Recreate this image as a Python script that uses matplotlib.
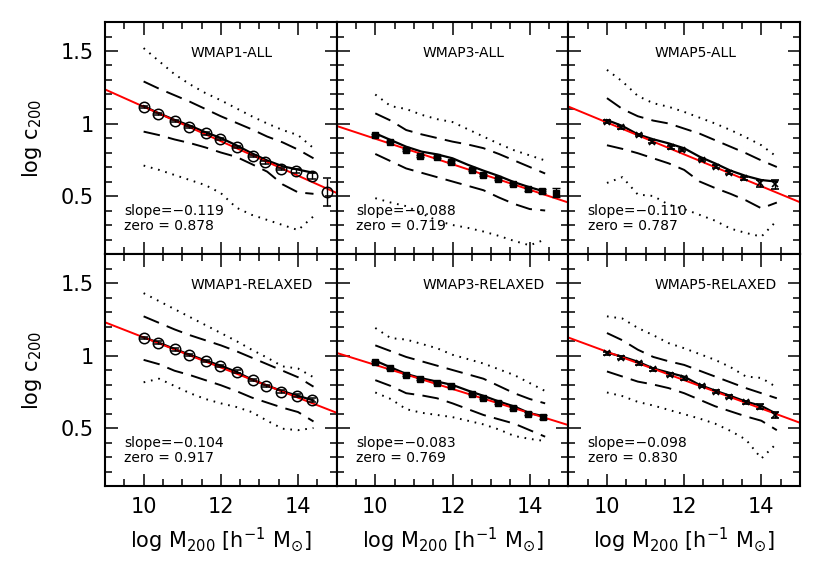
import matplotlib
matplotlib.use('Agg')
import matplotlib.pyplot as plt
from matplotlib.ticker import MultipleLocator, FuncFormatter
import numpy as np

# ---------------- data ----------------
mass_grid = [10.0, 10.4, 10.8, 11.2, 11.6, 12.0, 12.4, 12.8, 13.2, 13.6, 14.0, 14.4]

titles = ["WMAP1-ALL", "WMAP3-ALL", "WMAP5-ALL",
          "WMAP1-RELAXED", "WMAP3-RELAXED", "WMAP5-RELAXED"]
slopes = [-0.119, -0.088, -0.110, -0.104, -0.083, -0.098]
zeros = [0.878, 0.719, 0.787, 0.917, 0.769, 0.830]

# WMAP1-ALL
w1a_x = [10.0, 10.38, 10.81, 11.17, 11.61, 11.97, 12.43, 12.83, 13.15, 13.56, 13.95, 14.36, 14.74]
w1a_y = [1.116, 1.066, 1.019, 0.978, 0.932, 0.893, 0.840, 0.778, 0.732, 0.686, 0.672, 0.640, 0.528]
w1a_err = [0.008, 0.008, 0.008, 0.008, 0.008, 0.008, 0.008, 0.008, 0.01, 0.01, 0.012, 0.02, 0.095]
w1a_med = [1.12, 1.07, 1.025, 0.985, 0.94, 0.90, 0.85, 0.795, 0.745, 0.705, 0.682, 0.66]
w1a_up1 = [1.29, 1.24, 1.195, 1.15, 1.10, 1.05, 1.005, 0.96, 0.91, 0.87, 0.82, 0.76]
w1a_lo1 = [0.944, 0.92, 0.89, 0.865, 0.835, 0.80, 0.77, 0.72, 0.668, 0.58, 0.525, 0.515]
w1a_up2 = [1.52, 1.43, 1.34, 1.27, 1.21, 1.16, 1.105, 1.05, 1.0, 0.955, 0.92, 0.83]
w1a_lo2 = [0.71, 0.68, 0.645, 0.61, 0.575, 0.52, 0.42, 0.37, 0.335, 0.30, 0.265, 0.36]

# WMAP3-ALL
w3a_x = [10.0, 10.38, 10.8, 11.17, 11.6, 11.97, 12.5, 12.78, 13.17, 13.56, 13.95, 14.33, 14.68]
w3a_y = [0.921, 0.875, 0.817, 0.776, 0.767, 0.737, 0.679, 0.645, 0.617, 0.583, 0.546, 0.534, 0.523]
w3a_err = [0.006, 0.006, 0.006, 0.006, 0.006, 0.006, 0.006, 0.006, 0.008, 0.008, 0.01, 0.015, 0.03]
w3a_med = [0.932, 0.886, 0.84, 0.806, 0.787, 0.76, 0.715, 0.675, 0.638, 0.595, 0.56, 0.53]
w3a_up1 = [1.07, 1.02, 0.955, 0.925, 0.90, 0.875, 0.855, 0.83, 0.79, 0.745, 0.70, 0.655]
w3a_lo1 = [0.79, 0.74, 0.69, 0.66, 0.63, 0.60, 0.57, 0.54, 0.49, 0.445, 0.41, 0.40]
w3a_up2 = [1.20, 1.12, 1.10, 1.06, 1.03, 1.01, 0.96, 0.91, 0.86, 0.815, 0.78, 0.745]
w3a_lo2 = [0.485, 0.455, 0.43, 0.38, 0.33, 0.30, 0.28, 0.255, 0.225, 0.19, 0.16, 0.20]

# WMAP5-ALL
w5a_x = [10.0, 10.36, 10.83, 11.17, 11.65, 11.95, 12.47, 12.82, 13.16, 13.55, 13.96, 14.34]
w5a_y = [1.013, 0.974, 0.921, 0.875, 0.836, 0.817, 0.748, 0.702, 0.661, 0.622, 0.587, 0.580]
w5a_err = [0.01, 0.01, 0.01, 0.01, 0.01, 0.01, 0.01, 0.01, 0.01, 0.012, 0.022, 0.032]
w5a_med = [1.024, 0.983, 0.925, 0.891, 0.863, 0.829, 0.771, 0.725, 0.675, 0.638, 0.610, 0.599]
w5a_up1 = [1.175, 1.10, 1.05, 1.02, 1.00, 0.965, 0.93, 0.885, 0.84, 0.795, 0.745, 0.70]
w5a_lo1 = [0.85, 0.825, 0.795, 0.76, 0.725, 0.68, 0.60, 0.555, 0.515, 0.47, 0.415, 0.455]
w5a_up2 = [1.37, 1.29, 1.19, 1.14, 1.115, 1.08, 1.04, 1.0, 0.955, 0.905, 0.85, 0.77]
w5a_lo2 = [0.59, 0.63, 0.51, 0.50, 0.44, 0.41, 0.37, 0.33, 0.275, 0.245, 0.22, 0.33]

# WMAP1-RELAXED
w1r_x = [10.0, 10.38, 10.81, 11.17, 11.61, 11.97, 12.43, 12.83, 13.18, 13.57, 13.96, 14.37]
w1r_y = [1.123, 1.089, 1.042, 1.003, 0.964, 0.928, 0.889, 0.831, 0.790, 0.751, 0.723, 0.693]
w1r_err = [0.008, 0.008, 0.008, 0.008, 0.008, 0.008, 0.008, 0.008, 0.008, 0.01, 0.01, 0.012]
w1r_med = [1.125, 1.088, 1.045, 1.005, 0.965, 0.93, 0.887, 0.835, 0.793, 0.753, 0.722, 0.69]
w1r_up1 = [1.27, 1.225, 1.18, 1.14, 1.105, 1.07, 1.03, 0.985, 0.94, 0.895, 0.85, 0.785]
w1r_lo1 = [0.97, 0.94, 0.895, 0.865, 0.83, 0.795, 0.755, 0.71, 0.675, 0.64, 0.61, 0.545]
w1r_up2 = [1.43, 1.375, 1.32, 1.265, 1.21, 1.155, 1.10, 1.04, 0.985, 0.925, 0.91, 0.85]
w1r_lo2 = [0.815, 0.84, 0.79, 0.74, 0.70, 0.67, 0.645, 0.61, 0.55, 0.495, 0.485, 0.50]

# WMAP3-RELAXED
w3r_x = [10.0, 10.37, 10.8, 11.17, 11.6, 11.97, 12.5, 12.78, 13.17, 13.56, 13.95, 14.34]
w3r_y = [0.957, 0.911, 0.865, 0.836, 0.809, 0.790, 0.735, 0.705, 0.675, 0.641, 0.597, 0.574]
w3r_err = [0.006, 0.006, 0.006, 0.006, 0.006, 0.006, 0.006, 0.006, 0.008, 0.008, 0.01, 0.014]
w3r_med = [0.964, 0.918, 0.873, 0.843, 0.820, 0.797, 0.758, 0.722, 0.683, 0.648, 0.602, 0.579]
w3r_up1 = [1.07, 1.03, 0.99, 0.96, 0.93, 0.90, 0.87, 0.84, 0.79, 0.74, 0.70, 0.67]
w3r_lo1 = [0.83, 0.79, 0.74, 0.725, 0.705, 0.67, 0.63, 0.59, 0.56, 0.53, 0.485, 0.44]
w3r_up2 = [1.19, 1.12, 1.11, 1.08, 1.05, 1.005, 0.975, 0.945, 0.905, 0.865, 0.81, 0.755]
w3r_lo2 = [0.745, 0.70, 0.63, 0.605, 0.59, 0.575, 0.55, 0.525, 0.49, 0.445, 0.425, 0.41]

# WMAP5-RELAXED
w5r_x = [10.0, 10.36, 10.84, 11.18, 11.64, 12.0, 12.47, 12.82, 13.16, 13.6, 13.96, 14.34]
w5r_y = [1.015, 0.985, 0.946, 0.905, 0.866, 0.843, 0.790, 0.751, 0.717, 0.678, 0.648, 0.589]
w5r_err = [0.01, 0.01, 0.01, 0.01, 0.01, 0.01, 0.01, 0.01, 0.01, 0.01, 0.015, 0.022]
w5r_med = [1.02, 0.992, 0.957, 0.911, 0.882, 0.854, 0.797, 0.758, 0.721, 0.682, 0.652, 0.596]
w5r_up1 = [1.155, 1.105, 1.04, 0.99, 0.96, 0.935, 0.895, 0.855, 0.815, 0.775, 0.74, 0.705]
w5r_lo1 = [0.89, 0.855, 0.82, 0.80, 0.775, 0.74, 0.695, 0.65, 0.615, 0.58, 0.55, 0.485]
w5r_up2 = [1.27, 1.255, 1.19, 1.14, 1.085, 1.05, 1.01, 0.97, 0.92, 0.855, 0.845, 0.78]
w5r_lo2 = [0.745, 0.72, 0.68, 0.655, 0.625, 0.595, 0.565, 0.53, 0.48, 0.42, 0.29, 0.395]

panels = [
    (w1a_x, w1a_y, w1a_err, w1a_med, w1a_up1, w1a_lo1, w1a_up2, w1a_lo2),
    (w3a_x, w3a_y, w3a_err, w3a_med, w3a_up1, w3a_lo1, w3a_up2, w3a_lo2),
    (w5a_x, w5a_y, w5a_err, w5a_med, w5a_up1, w5a_lo1, w5a_up2, w5a_lo2),
    (w1r_x, w1r_y, w1r_err, w1r_med, w1r_up1, w1r_lo1, w1r_up2, w1r_lo2),
    (w3r_x, w3r_y, w3r_err, w3r_med, w3r_up1, w3r_lo1, w3r_up2, w3r_lo2),
    (w5r_x, w5r_y, w5r_err, w5r_med, w5r_up1, w5r_lo1, w5r_up2, w5r_lo2),
]

# marker style per cosmology (column)
marker_styles = [
    dict(fmt='o', mfc='none', mec='k', ms=7.5, mew=1.1),
    dict(fmt='s', mfc='k', mec='k', ms=4, mew=1.0),
    dict(fmt='x', mfc='k', mec='k', ms=5, mew=1.2),
]

# ---------------- style ----------------
plt.rcParams['font.family'] = ['DejaVu Sans']
plt.rcParams['mathtext.fontset'] = 'dejavusans'
plt.rcParams['lines.scale_dashes'] = False

fig, axes = plt.subplots(2, 3, figsize=(8.3, 5.63), dpi=100, sharex=True, sharey=True,
                         gridspec_kw=dict(wspace=0, hspace=0))
fig.subplots_adjust(left=105 / 830, right=800 / 830, top=1 - 22 / 563, bottom=1 - 486 / 563)

fmt = FuncFormatter(lambda v, p: f"{v:g}")

for i, ax in enumerate(axes.flat):
    px, py, perr, med, up1, lo1, up2, lo2 = panels[i]
    col = i % 3
    ax.set_xlim(9, 15)
    ax.set_ylim(0.1, 1.7)

    ax.plot(mass_grid, up2, color='k', lw=1.4, ls=(0, (1.2, 4.2)))
    ax.plot(mass_grid, lo2, color='k', lw=1.4, ls=(0, (1.2, 4.2)))
    ax.plot(mass_grid, up1, color='k', lw=1.4, ls=(0, (12, 6)))
    ax.plot(mass_grid, lo1, color='k', lw=1.4, ls=(0, (12, 6)))
    ax.plot(mass_grid, med, color='k', lw=1.6)

    xl = np.array(ax.get_xlim())
    ax.plot(xl, zeros[i] + slopes[i] * (xl - 12.0), color='#ff0000', lw=1.4, zorder=2.5)

    ms = marker_styles[col]
    ax.errorbar(px, py, yerr=perr, fmt=ms['fmt'], mfc=ms['mfc'], mec=ms['mec'],
                ms=ms['ms'], mew=ms['mew'], ecolor='k', elinewidth=1.0,
                capsize=3, capthick=1.0, zorder=3)

    ax.text(11.22, 1.485, titles[i], fontsize=10, ha='left', va='center')
    ax.text(9.5, 0.40, f"slope={slopes[i]:.3f}".replace('-', '\u2212'), fontsize=10,
            ha='left', va='center')
    ax.text(9.5, 0.29, f"zero = {zeros[i]:.3f}", fontsize=10, ha='left', va='center')

    ax.xaxis.set_major_locator(MultipleLocator(2))
    ax.xaxis.set_minor_locator(MultipleLocator(0.5))
    ax.yaxis.set_major_locator(MultipleLocator(0.5))
    ax.yaxis.set_minor_locator(MultipleLocator(0.1))
    ax.yaxis.set_major_formatter(fmt)
    ax.xaxis.set_major_formatter(fmt)
    ax.tick_params(which='both', direction='in', top=True, right=True, width=1.1,
                   labelsize=15, pad=8)
    ax.tick_params(which='major', length=9)
    ax.tick_params(which='minor', length=5)
    for sp in ax.spines.values():
        sp.set_linewidth(1.5)

    if i >= 3:
        ax.set_xlabel(r'log M$_{\mathregular{200}}$ [h$^{\mathregular{-1}}$ M$_{\odot}$]',
                      fontsize=15, labelpad=6)

for r in range(2):
    yc = 1 - (22 + 232 * r + 116) / 563
    fig.text(32 / 830, yc, r'log c$_{\mathregular{200}}$', rotation=90, fontsize=15,
             ha='center', va='center')

fig.savefig('out.png', dpi=100)
